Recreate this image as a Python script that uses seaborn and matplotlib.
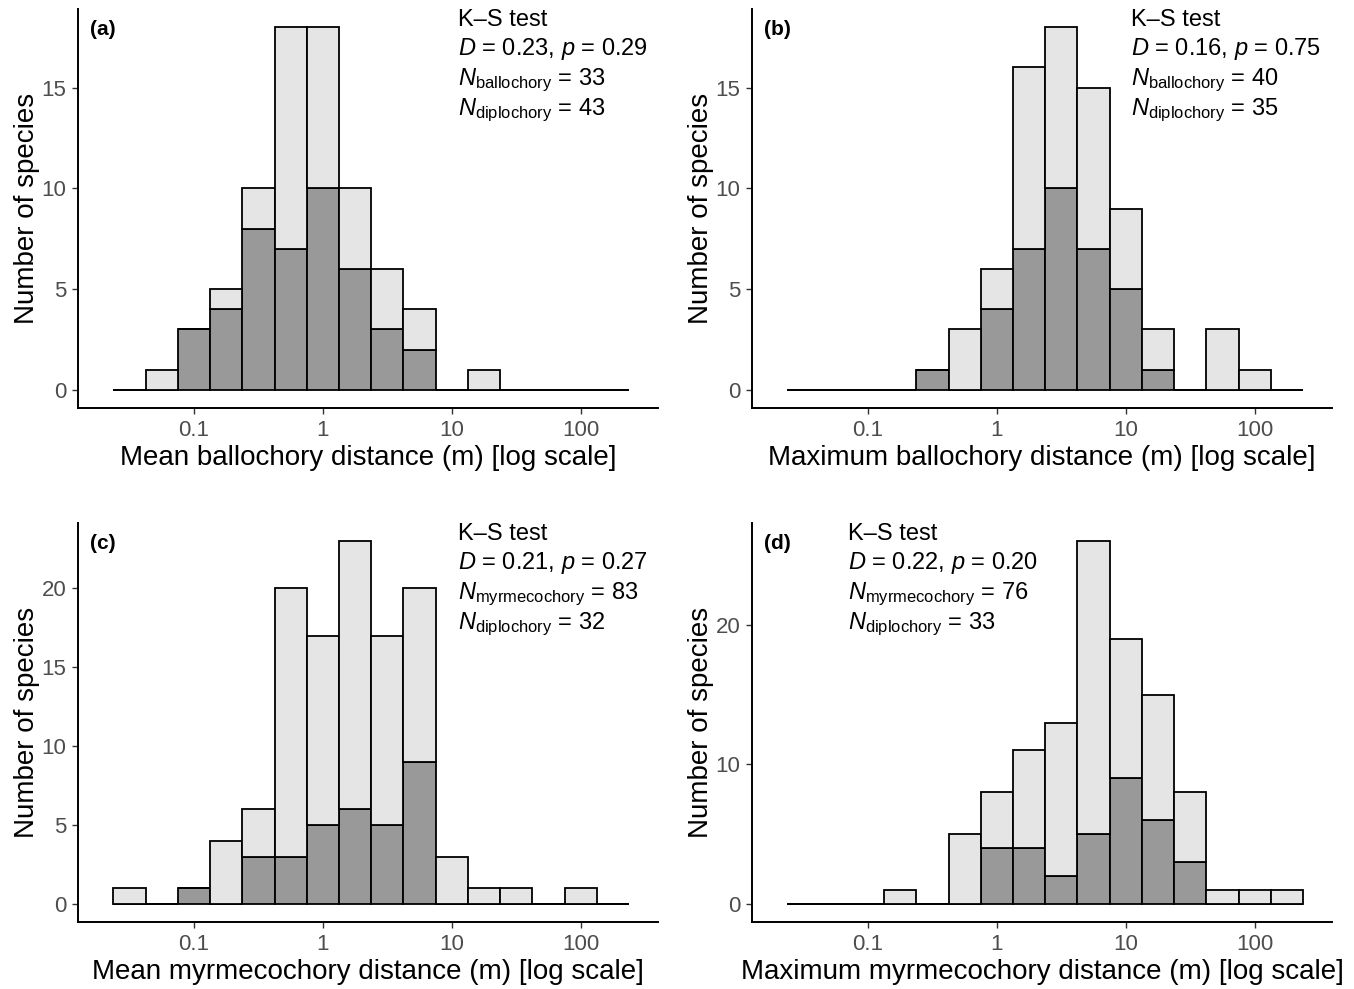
import numpy as np
import pandas as pd
import matplotlib
matplotlib.use('Agg')
import matplotlib.pyplot as plt
from matplotlib.ticker import NullLocator
import seaborn as sns

# log10 bin centres shared by all four panels (bin width 0.25 in log10)
bin_log = [-1.5, -1.25, -1.0, -0.75, -0.5, -0.25, 0.0, 0.25, 0.5, 0.75,
           1.0, 1.25, 1.5, 1.75, 2.0, 2.25]

# species counts per bin
a_ballochory = [0, 1, 0, 1, 2, 11, 8, 4, 3, 2, 0, 1, 0, 0, 0, 0]
a_diplochory = [0, 0, 3, 4, 8, 7, 10, 6, 3, 2, 0, 0, 0, 0, 0, 0]
b_ballochory = [0, 0, 0, 0, 0, 3, 2, 9, 8, 8, 4, 2, 0, 3, 1, 0]
b_diplochory = [0, 0, 0, 0, 1, 0, 4, 7, 10, 7, 5, 1, 0, 0, 0, 0]
c_myrmecochory = [1, 0, 0, 4, 3, 17, 12, 17, 12, 11, 3, 1, 1, 0, 1, 0]
c_diplochory = [0, 0, 1, 0, 3, 3, 5, 6, 5, 9, 0, 0, 0, 0, 0, 0]
d_myrmecochory = [0, 0, 0, 1, 0, 5, 4, 7, 11, 21, 10, 9, 5, 1, 1, 1]
d_diplochory = [0, 0, 0, 0, 0, 0, 4, 4, 2, 5, 9, 6, 3, 0, 0, 0]

ks_a = ('0.23', '0.29', 33, 43)
ks_b = ('0.16', '0.75', 40, 35)
ks_c = ('0.21', '0.27', 83, 32)
ks_d = ('0.22', '0.20', 76, 33)

x_ticks = [0.1, 1, 10, 100]
x_ticklabels = ['0.1', '1', '10', '100']

sns.set_theme(style='ticks')
plt.rcParams['font.family'] = ['Liberation Sans', 'DejaVu Sans']
plt.rcParams['mathtext.fontset'] = 'custom'
plt.rcParams['mathtext.rm'] = 'Liberation Sans'
plt.rcParams['mathtext.it'] = 'Liberation Sans:italic'

LIGHT = '#E5E5E5'
DARK = '#999999'


def long_table(other, other_name, dip):
    centres = 10 ** np.array(bin_log)
    df1 = pd.DataFrame({'dist': np.repeat(centres, other), 'mode': other_name})
    df2 = pd.DataFrame({'dist': np.repeat(centres, dip), 'mode': 'diplochory'})
    return pd.concat([df1, df2], ignore_index=True)


def panel(ax, other, other_name, dip, xlabel, tag, ks, text_x, yticks):
    df = long_table(other, other_name, dip)
    sns.histplot(data=df, x='dist', hue='mode', hue_order=[other_name, 'diplochory'],
                 multiple='stack', log_scale=True, binwidth=0.25, binrange=(-1.625, 2.375),
                 palette={other_name: LIGHT, 'diplochory': DARK}, alpha=1,
                 edgecolor='black', linewidth=1.3, legend=False, ax=ax)
    top = max(np.add(other, dip))
    ax.set_ylim(-0.05 * top, 1.05 * top)
    ax.set_xlim(10 ** -1.90, 10 ** 2.60)
    ax.set_xticks(x_ticks)
    ax.set_xticklabels(x_ticklabels)
    ax.xaxis.set_minor_locator(NullLocator())
    ax.set_yticks(yticks)
    for s in ['top', 'right']:
        ax.spines[s].set_visible(False)
    for s in ['left', 'bottom']:
        ax.spines[s].set_linewidth(1.4)
        ax.spines[s].set_color('black')
    ax.tick_params(axis='both', length=4.5, width=1.0, color='#333333',
                   labelcolor='#4D4D4D', labelsize=16, pad=4)
    ax.set_xlabel(xlabel, fontsize=20, color='black', labelpad=3)
    ax.set_ylabel('Number of species', fontsize=20, color='black', labelpad=1)
    ax.text(0.02, 0.972, tag, transform=ax.transAxes, fontsize=15,
            fontweight='bold', va='top', ha='left', color='black')
    d, p, n1, n2 = ks
    lines = ['K–S test',
             r'$\mathit{D}$ = ' + d + r', $\mathit{p}$ = ' + p,
             r'$\mathit{N}_{\mathrm{' + other_name + '}}$ = ' + str(n1),
             r'$\mathit{N}_{\mathrm{diplochory}}$ = ' + str(n2)]
    for i, line in enumerate(lines):
        ax.text(text_x, 0.958 - i * 0.0745, line, transform=ax.transAxes,
                fontsize=17, va='baseline', ha='left', color='black')


fig = plt.figure(figsize=(13.54, 9.89), dpi=100)
W, H = 1354, 989
pw, ph = 580 / W, 399 / H
ax_a = fig.add_axes([78 / W, 1 - 408 / H, pw, ph])
ax_b = fig.add_axes([752 / W, 1 - 408 / H, pw, ph])
ax_c = fig.add_axes([78 / W, 1 - 922 / H, pw, ph])
ax_d = fig.add_axes([752 / W, 1 - 922 / H, pw, ph])

panel(ax_a, a_ballochory, 'ballochory', a_diplochory,
      'Mean ballochory distance (m) [log scale]', '(a)', ks_a, 0.655, [0, 5, 10, 15])
panel(ax_b, b_ballochory, 'ballochory', b_diplochory,
      'Maximum ballochory distance (m) [log scale]', '(b)', ks_b, 0.653, [0, 5, 10, 15])
panel(ax_c, c_myrmecochory, 'myrmecochory', c_diplochory,
      'Mean myrmecochory distance (m) [log scale]', '(c)', ks_c, 0.655, [0, 5, 10, 15, 20])
panel(ax_d, d_myrmecochory, 'myrmecochory', d_diplochory,
      'Maximum myrmecochory distance (m) [log scale]', '(d)', ks_d, 0.166, [0, 10, 20])

fig.savefig('out.png', dpi=100)
